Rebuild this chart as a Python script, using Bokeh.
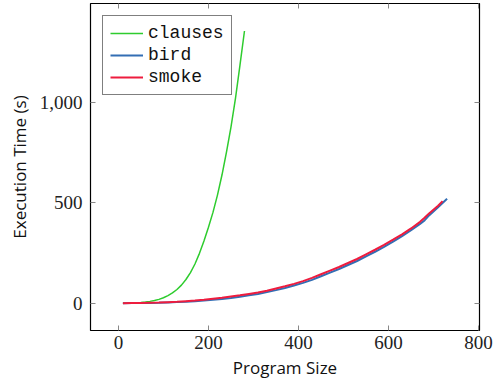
from bokeh.plotting import figure
from bokeh.models import Range1d, LinearAxis, FixedTicker, CustomJSTickFormatter, Legend, LegendItem
from bokeh.embed import file_html
from bokeh.resources import INLINE

clauses_x = [10, 20, 30, 40, 50, 60, 70, 80, 90, 100, 110, 120, 130, 140, 150, 160, 170, 180,
             190, 200, 210, 220, 230, 240, 250, 260, 270, 280]
clauses_y = [0, 0.3, 1, 2, 3.5, 6, 9, 13, 19, 27, 38, 51, 68, 90, 118, 152, 195, 248,
             310, 378, 452, 538, 638, 752, 876, 1020, 1185, 1355]

bird_x = [10, 30, 50, 70, 90, 110, 130, 150, 170, 190, 210, 230, 250, 270, 290, 310, 330, 350,
          370, 390, 410, 430, 450, 470, 490, 510, 530, 550, 570, 590, 610, 630, 650, 670,
          680, 690, 710, 730]
bird_y = [0, 0.3, 0.7, 1.5, 2.5, 4, 5.5, 7.5, 10, 13, 17, 21, 26, 32, 39, 46, 55, 65,
          76, 88, 101, 116, 134, 152, 170, 190, 210, 233, 256, 280, 306, 334, 363, 395,
          412, 437, 478, 520]

smoke_x = [10, 30, 50, 70, 90, 110, 130, 150, 170, 190, 210, 230, 250, 270, 290, 310, 330, 350,
           370, 390, 410, 430, 450, 470, 490, 510, 530, 550, 570, 590, 610, 630, 650, 670,
           680, 690, 710, 720]
smoke_y = [0, 0.5, 1, 2, 3, 5, 7, 10, 13, 17, 22, 27, 33, 39, 46, 53, 62, 73,
           84, 96, 110, 126, 144, 162, 180, 200, 220, 243, 266, 290, 316, 343, 372, 405,
           425, 447, 485, 508]

x_ticks = [0, 200, 400, 600, 800]
y_ticks = [0, 500, 1000]

SERIF = "Liberation Serif"
SANS = "Open Sans"
MONO = "Liberation Mono"

p = figure(width=493, height=385, output_backend="svg", toolbar_location=None,
           x_range=Range1d(-62, 802), y_range=Range1d(-136, 1492),
           min_border_left=90, min_border_right=14, min_border_top=3, min_border_bottom=55)
p.xgrid.visible = False
p.ygrid.visible = False
p.outline_line_color = "black"
p.outline_line_width = 1.2
p.background_fill_color = "white"
p.border_fill_color = "white"

fmt = CustomJSTickFormatter(code="return tick.toLocaleString('en-US');")
blank = CustomJSTickFormatter(code="return '';")

for ax in [p.xaxis[0], p.yaxis[0]]:
    ax.major_tick_in = 5
    ax.major_tick_out = 0
    ax.minor_tick_in = 0
    ax.minor_tick_out = 0
    ax.major_tick_line_color = "#888888"
    ax.axis_line_color = None
    ax.major_label_text_font = SERIF
    ax.major_label_text_font_size = "19px"
    ax.major_label_text_color = "#222222"
    ax.axis_label_text_font = SANS
    ax.axis_label_text_font_size = "17px"
    ax.axis_label_text_font_style = "normal"
    ax.axis_label_text_color = "#111111"

p.xaxis.ticker = FixedTicker(ticks=x_ticks)
p.yaxis.ticker = FixedTicker(ticks=y_ticks)
p.yaxis.formatter = fmt
p.xaxis.axis_label = "Program Size"
p.yaxis.axis_label = "Execution Time (s)"
p.xaxis.major_label_standoff = 5
p.yaxis.major_label_standoff = 8
p.xaxis.axis_label_standoff = 4
p.yaxis.axis_label_standoff = 6

top = LinearAxis(ticker=FixedTicker(ticks=x_ticks), formatter=blank,
                 major_label_standoff=0, major_label_text_font_size="1px",
                 major_tick_in=5, major_tick_out=0, minor_tick_in=0, minor_tick_out=0,
                 axis_line_color=None, major_tick_line_color="#888888")
right = LinearAxis(ticker=FixedTicker(ticks=y_ticks), formatter=blank,
                   major_label_standoff=0, major_label_text_font_size="1px",
                   major_tick_in=5, major_tick_out=0, minor_tick_in=0, minor_tick_out=0,
                   axis_line_color=None, major_tick_line_color="#888888")
p.add_layout(top, "above")
p.add_layout(right, "right")

r1 = p.line(clauses_x, clauses_y, line_color="#2ecc2e", line_width=1.5)
r2 = p.line(bird_x, bird_y, line_color="#336eb4", line_width=2)
r3 = p.line(smoke_x, smoke_y, line_color="#ee1c3e", line_width=2)

legend = Legend(items=[LegendItem(label="clauses", renderers=[r1]),
                       LegendItem(label="bird", renderers=[r2]),
                       LegendItem(label="smoke", renderers=[r3])],
                location="top_left")
legend.margin = 12
legend.padding = 7
legend.spacing = 2
legend.glyph_width = 33
legend.glyph_height = 20
legend.label_standoff = 5
legend.label_text_font = MONO
legend.label_text_font_size = "18px"
legend.label_text_color = "#111111"
legend.border_line_color = "black"
legend.border_line_width = 1.2
legend.background_fill_alpha = 1
p.add_layout(legend)

open("out.html", "w").write(file_html(p, INLINE))
